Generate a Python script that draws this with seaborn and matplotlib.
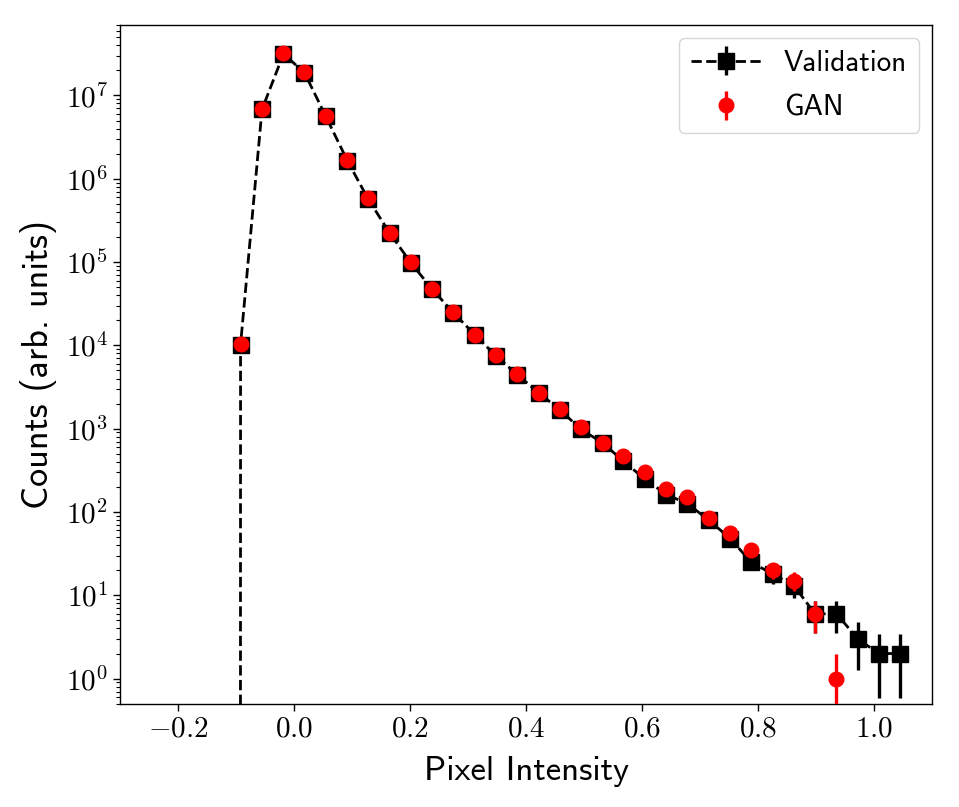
import numpy as np
import matplotlib
matplotlib.use("Agg")
import matplotlib.pyplot as plt
import seaborn as sns
from matplotlib.ticker import FuncFormatter, LogLocator, NullFormatter

# bin centres (pixel intensity)
pixel = [-0.128, -0.092, -0.055, -0.018, 0.018, 0.055, 0.092, 0.128, 0.165,
         0.202, 0.238, 0.275, 0.312, 0.348, 0.385, 0.422, 0.458, 0.495, 0.532,
         0.568, 0.605, 0.642, 0.678, 0.715, 0.752, 0.788, 0.825, 0.862, 0.898,
         0.935, 0.972, 1.008, 1.045]

# counts per bin
val_counts = [0, 1.02e4, 6.8e6, 3.15e7, 1.88e7, 5.6e6, 1.65e6, 5.7e5, 2.23e5,
              9.7e4, 4.75e4, 2.45e4, 1.34e4, 7.5e3, 4.45e3, 2.69e3, 1.69e3, 980,
              676, 406, 248, 162, 126, 80, 48, 25, 18, 13, 6, 6, 3, 2, 2]
gan_counts = [0, 1.03e4, 6.9e6, 3.2e7, 1.9e7, 5.7e6, 1.68e6, 5.8e5, 2.25e5,
              9.9e4, 4.8e4, 2.5e4, 1.35e4, 7.6e3, 4.5e3, 2.7e3, 1.7e3, 1040,
              680, 470, 300, 190, 152, 84, 56, 35, 20, 15, 6, 1, 0, 0, 0]

sns.set_style("ticks")
plt.rcParams["font.family"] = ["cmss10", "DejaVu Sans"]
plt.rcParams["mathtext.fontset"] = "cm"
plt.rcParams["axes.unicode_minus"] = False
plt.rcParams["text.color"] = "black"
plt.rcParams["axes.labelcolor"] = "black"

val = np.array(val_counts, dtype=float)
gan = np.array(gan_counts, dtype=float)

fig, ax = plt.subplots(figsize=(9.59, 8.07), dpi=100)
fig.subplots_adjust(left=0.125, right=0.972, top=0.969, bottom=0.128)

ax.errorbar(pixel, val, yerr=np.sqrt(val), fmt="s--", color="k", ms=12,
            lw=2, elinewidth=2.4, label="Validation", zorder=2)
ax.errorbar(pixel, gan, yerr=np.sqrt(gan), fmt="o", color="r", ms=10.5,
            elinewidth=2.4, label="GAN", zorder=3)

ax.set_yscale("log")
ax.set_xlim(-0.3, 1.1)
ax.set_ylim(0.5, 7e7)

ax.xaxis.set_major_formatter(FuncFormatter(
    lambda v, p: r"$%.1f$" % (0.0 if abs(v) < 1e-9 else v)))
ax.yaxis.set_major_locator(LogLocator(base=10, numticks=12))
ax.yaxis.set_major_formatter(FuncFormatter(
    lambda v, p: r"$10^{%d}$" % round(np.log10(v))))
ax.yaxis.set_minor_locator(LogLocator(base=10, subs=np.arange(2, 10), numticks=12))
ax.yaxis.set_minor_formatter(NullFormatter())

ax.tick_params(axis="both", which="major", labelsize=21, length=5, width=1,
               colors="k")
ax.tick_params(axis="y", which="minor", length=3, width=0.8, colors="k")
for s in ax.spines.values():
    s.set_color("k")
    s.set_linewidth(1)

ax.set_xlabel("Pixel Intensity", fontsize=25, labelpad=10)
ax.set_ylabel("Counts (arb. units)", fontsize=26, labelpad=6)

ax.legend(loc="upper right", fontsize=21, frameon=True, handlelength=2.4,
          labelspacing=0.6, borderaxespad=0.45)

fig.savefig("out.png", dpi=100)
